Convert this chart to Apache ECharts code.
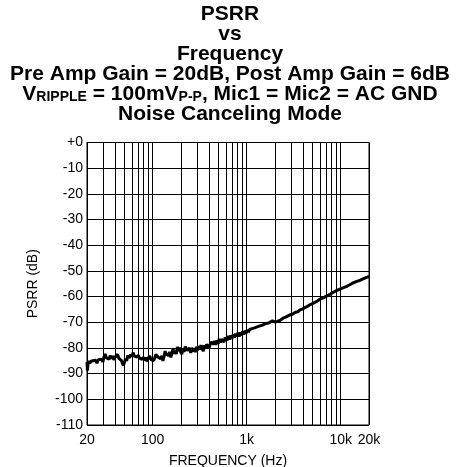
<!DOCTYPE html>
<html><head><meta charset="utf-8">
<script src="https://cdn.jsdelivr.net/npm/echarts@6/dist/echarts.min.js"></script>
<style>html,body{margin:0;padding:0;background:#fff}#c{width:460px;height:467px}</style>
</head><body><div id="c"></div>
<script>
const freqHz = [20,20.2,20.5,20.9,21.4,22,22.6,23.3,24,24.8,25.5,26.4,27.5,28.4,29.5,30.3,31.1,32.2,33.4,34.3,35.3,36.4,37.5,38.6,39.7,41,42.3,43.6,45,46.3,47.6,48.8,50,51.3,52.8,54.5,56.3,58,60,61.8,63.8,65.8,68,70,72.3,74.5,77,79.4,82,84.5,87,90,93,96,99,102,105,108,111,114.5,118,121.5,125,128.5,132,135.5,139.5,143.5,148,152,156,160.5,164.5,169,173.5,178,183,188,193,198.5,204,210,216,222,228,234,240,247,254,261,268,276,284,292,300,309,318,327,336,345,355,365,375,386,397,408,420,432,444,457,470,483,497,511,526,541,557,573,590,607,624,642,660,680,700,720,740,762,784,807,830,855,880,905,930,958,985,1015,1045,1075,1105,1140,1175,1210,1250,1290,1330,1382,1425,1470,1520,1566,1615,1660,1715,1770,1840,1880,1910,1950,2000,2060,2106,2180,2250,2340,2434,2520,2600,2680,2750,2820,2890,2960,3000,3060,3110,3200,3300,3400,3500,3600,3692,3800,3900,4000,4100,4240,4380,4700,5074,5500,6020,6500,7140,7700,8260,9000,9800,10700,11620,12500,13460,14600,15960,17500,19460,20000];
const psrrDb = [-85.5,-88.8,-86.2,-85,-86,-85.2,-85.8,-85,-85.6,-84.8,-85.9,-84.6,-85.3,-84.4,-85.4,-83.5,-82.4,-83.8,-83.2,-84.4,-83,-84.2,-83.1,-84.6,-83.6,-84.3,-82.5,-84,-83.3,-84.8,-85.2,-86.9,-85.6,-84.2,-85,-82.9,-83.9,-82.6,-83.4,-81.8,-83.2,-82.5,-83.6,-82.8,-84,-83.3,-84.4,-83.6,-84.9,-83.7,-85.2,-83.9,-83.1,-84.5,-83.8,-84.9,-84,-82.5,-81.8,-83.6,-82.9,-84.2,-83.1,-85,-83.3,-81.2,-82.9,-82.1,-83.2,-81.5,-83.7,-82,-80.3,-82.2,-81.2,-82.4,-79.6,-81.2,-79.9,-81.6,-82.4,-80.3,-81.5,-79.5,-79.2,-81,-81.6,-80,-81.9,-79.9,-81.4,-80.2,-81.6,-79.6,-80.9,-79.3,-80.6,-78.9,-80.2,-81.3,-79,-80.3,-78.6,-78.3,-80,-78.6,-77.7,-77,-78.6,-77.3,-78.8,-77,-78.3,-76.5,-77.9,-76.6,-76.1,-77.7,-76,-75.6,-76.9,-75.3,-76.7,-75.1,-76.3,-74.7,-76,-74.4,-75.5,-74.1,-75.6,-74,-75.1,-73.6,-74.8,-73.3,-74.3,-72.9,-73.8,-72.8,-73.4,-72.5,-72.9,-72.2,-72.7,-71.8,-72.3,-71.4,-71.8,-71.1,-71.6,-70.6,-71,-70.4,-70.9,-70,-70.4,-69.4,-68.8,-69.5,-69.9,-69.4,-69.7,-69.1,-69.3,-68.6,-68.4,-68.6,-68,-68.2,-67.5,-67.7,-67.1,-67.3,-66.5,-66.9,-66.6,-66.3,-66.1,-65.7,-65.9,-65.3,-65.2,-65,-64.9,-64.5,-64.4,-64.2,-63.9,-63.2,-62.6,-62,-61,-60.5,-59.7,-59.1,-58.4,-57.7,-57.1,-56.5,-56,-55.4,-54.7,-54.2,-53.7,-53,-52.3,-52.2];
const minorGridHz = [30,40,50,60,70,80,90,200,300,400,500,600,700,800,900,2000,3000,4000,5000,6000,7000,8000,9000];
const yTicks = {min:-110, max:0, step:10};
const titleLines = ['PSRR','vs','Frequency','Pre Amp Gain = 20dB, Post Amp Gain = 6dB'];
const rippleLine = ['V','RIPPLE',' = 100mV','P-P',', Mic1 = Mic2 = AC GND'];
const lastLine = 'Noise Canceling Mode';

const titleText = titleLines.map(t => '{b|' + t + '}').join('\n') + '\n' +
  '{b|' + rippleLine[0] + '}{s|' + rippleLine[1] + '}{b|' + rippleLine[2] + '}{s|' + rippleLine[3] + '}{b|' + rippleLine[4] + '}\n' +
  '{b|' + lastLine + '}';

const FF = '"Liberation Sans", Arial, Helvetica, sans-serif';
const chart = echarts.init(document.getElementById('c'), null, {renderer:'canvas'});
chart.setOption({
  animation: false,
  backgroundColor: '#fff',
  graphic: [{
    type: 'text', x: 230, y: 4, silent: true,
    style: {
      text: titleText, align: 'center', verticalAlign: 'top',
      rich: {
        b: {fontFamily: FF, fontWeight: 'bold', fontSize: 21, lineHeight: 20, fill: '#000', align: 'center'},
        s: {fontFamily: FF, fontWeight: 'bold', fontSize: 14, lineHeight: 8, verticalAlign: 'bottom', fill: '#000'}
      }
    }
  }],
  grid: {left: 87, right: 91, top: 142.5, bottom: 42, show: true, borderColor: '#000', borderWidth: 1, containLabel: false, outerBoundsMode: 'none'},
  xAxis: {
    type: 'log', logBase: 10, min: freqHz[0], max: freqHz[freqHz.length-1],
    name: 'FREQUENCY (Hz)', nameLocation: 'middle', nameGap: 29,
    nameTextStyle: {fontFamily: FF, fontSize: 14, color: '#000'},
    axisLine: {show: true, lineStyle: {color: '#000', width: 1}},
    axisTick: {show: false},
    axisLabel: {fontFamily: FF, fontSize: 14, color: '#000', margin: 8,
      formatter: v => { const r = Math.round(v); return r >= 1000 ? (r/1000) + 'k' : String(r); }},
    splitLine: {show: true, lineStyle: {color: '#000', width: 1}},
    minorTick: {show: false}, minorSplitLine: {show: false}
  },
  yAxis: {
    type: 'value', min: yTicks.min, max: yTicks.max, interval: yTicks.step,
    name: 'PSRR (dB)', nameLocation: 'middle', nameGap: 47, nameRotate: 90,
    nameTextStyle: {fontFamily: FF, fontSize: 14, color: '#000'},
    axisLine: {show: true, lineStyle: {color: '#000', width: 1}},
    axisTick: {show: false},
    axisLabel: {fontFamily: FF, fontSize: 14, color: '#000', margin: 4,
      formatter: v => v === 0 ? '+0' : String(v)},
    splitLine: {show: true, lineStyle: {color: '#000', width: 1}}
  },
  series: [
    {
      type: 'line', data: [], silent: true, z: 1,
      markLine: {silent: true, symbol: ['none','none'], label: {show: false},
        lineStyle: {color: '#000', width: 1, type: 'solid'},
        emphasis: {disabled: true},
        data: minorGridHz.map(f => ({xAxis: f}))}
    },
    {
      type: 'line', z: 5, showSymbol: false, smooth: false,
      data: freqHz.map((f, i) => [f, psrrDb[i]]),
      lineStyle: {color: '#000', width: 3}
    }
  ]
});
</script></body></html>
